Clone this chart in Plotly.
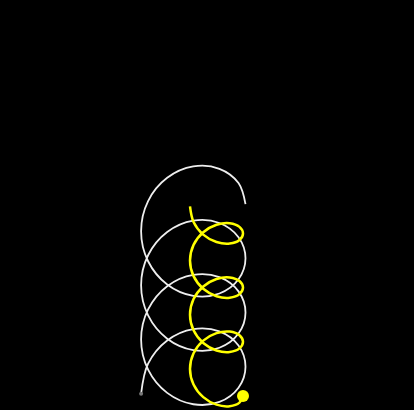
import plotly.graph_objects as go

# Traced points (x to the right, y upward; plot units)
white_x = [141.1, 148.1, 167.2, 193.3, 219.4, 238.5, 245.5, 238.5, 219.4, 193.3, 167.2, 148.1,
           141.1, 148.1, 167.2, 193.3, 219.4, 238.5, 245.5, 238.5, 219.4, 193.3, 167.2, 148.1,
           141.1, 148.1, 167.2, 193.3, 219.4, 238.5, 245.5, 238.5, 219.4, 193.3, 167.2, 148.1,
           141.1, 148.1, 167.2, 193.3, 219.4, 238.5, 245.5]
white_y = [16.25, 46.35, 69.58, 80.95, 78.62, 64.41, 43.35, 22.29, 8.08, 5.75, 17.12, 40.35,
           70.45, 100.55, 123.78, 135.15, 132.82, 118.61, 97.55, 76.49, 62.28, 59.95, 71.32, 94.55,
           124.65, 154.75, 177.98, 189.35, 187.01, 172.81, 151.75, 130.68, 116.48, 114.15, 125.51, 148.75,
           178.85, 208.94, 232.18, 243.55, 241.21, 227.01, 205.95]

yellow_x = [243.0, 239.45, 229.75, 216.5, 203.25, 193.55, 190.0, 193.55, 203.25, 216.5, 229.75, 239.45,
            243.0, 239.45, 229.75, 216.5, 203.25, 193.55, 190.0, 193.55, 203.25, 216.5, 229.75, 239.45,
            243.0, 239.45, 229.75, 216.5, 203.25, 193.55, 190.0, 193.55, 203.25, 216.5, 229.75, 239.45,
            243.0, 239.45, 229.75, 216.5, 203.25, 193.55, 190.0]
yellow_y = [14.0, 7.42, 3.80, 5.35, 12.84, 25.48, 41.10, 56.72, 69.36, 76.85, 78.40, 74.78,
            68.20, 61.62, 58.00, 59.55, 67.04, 79.68, 95.30, 110.92, 123.56, 131.05, 132.60, 128.98,
            122.40, 115.82, 112.20, 113.75, 121.23, 133.88, 149.50, 165.11, 177.76, 185.25, 186.79, 183.18,
            176.60, 170.01, 166.40, 167.95, 175.43, 188.08, 203.70]

fig = go.Figure()
fig.add_trace(go.Scatter(x=white_x, y=white_y, mode="lines",
                         line=dict(color="#eeeeee", width=1.8, shape="spline", smoothing=1),
                         hoverinfo="skip"))
fig.add_trace(go.Scatter(x=yellow_x, y=yellow_y, mode="lines",
                         line=dict(color="#ffff00", width=2.5, shape="spline", smoothing=1),
                         hoverinfo="skip"))
fig.add_trace(go.Scatter(x=[white_x[0]], y=[white_y[0]], mode="markers",
                         marker=dict(color="#777777", size=4), hoverinfo="skip"))
fig.add_trace(go.Scatter(x=[yellow_x[0]], y=[yellow_y[0]], mode="markers",
                         marker=dict(color="#ffff00", size=12), hoverinfo="skip"))

fig.update_layout(
    width=414, height=410,
    margin=dict(l=0, r=0, t=0, b=0),
    paper_bgcolor="#000000", plot_bgcolor="#000000",
    showlegend=False,
    xaxis=dict(range=[0, 414], visible=False, fixedrange=True),
    yaxis=dict(range=[0, 410], visible=False, fixedrange=True),
)
fig.write_html("out.html", config={"displayModeBar": False},
               post_script="document.body.style.margin='0';document.body.style.background='#000';")
